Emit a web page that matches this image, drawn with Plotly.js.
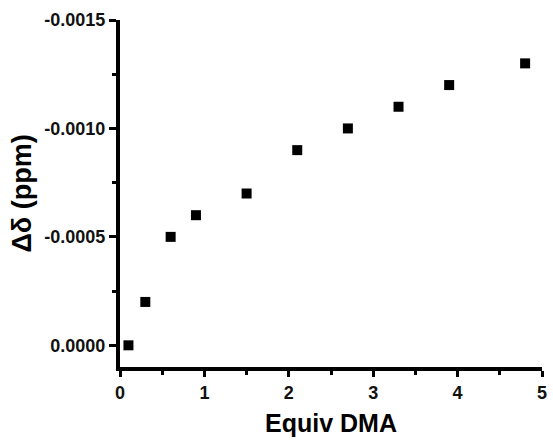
<!DOCTYPE html>
<html>
<head>
<meta charset="utf-8">
<script src="https://cdn.plot.ly/plotly-3.0.1.min.js"></script>
<style>html,body{margin:0;padding:0;background:#fff;}#chart{width:553px;height:446px;}</style>
</head>
<body>
<div id="chart"></div>
<script>
// Data
const equivDMA = [0.1, 0.3, 0.6, 0.9, 1.5, 2.1, 2.7, 3.3, 3.9, 4.8];
const deltaShift = [0.0000, -0.0002, -0.0005, -0.0006, -0.0007, -0.0009, -0.0010, -0.0011, -0.0012, -0.0013];
const yTickVals = [0, -0.0005, -0.0010, -0.0015];
const yTickText = ["0.0000", "-0.0005", "-0.0010", "-0.0015"];
const xTickVals = [0, 1, 2, 3, 4, 5];
const xTickText = ["0", "1", "2", "3", "4", "5"];
const yMinorVals = [-0.00025, -0.00075, -0.00125];
const xMinorVals = [0.5, 1.5, 2.5, 3.5, 4.5];

const FONT = "Arial, Liberation Sans, sans-serif";

const trace = {
  x: equivDMA,
  y: deltaShift,
  type: "scatter",
  mode: "markers",
  marker: {symbol: "square", size: 10, color: "#000", line: {width: 0}},
  showlegend: false
};

const axisCommon = {
  showgrid: false,
  zeroline: false,
  showline: true,
  linecolor: "black",
  linewidth: 4,
  ticks: "outside",
  tickwidth: 3,
  tickcolor: "black",
  tickfont: {family: FONT, size: 18, color: "#111", weight: 700}
};

const layout = {
  width: 553,
  height: 446,
  margin: {l: 120, r: 11, t: 20, b: 79},
  paper_bgcolor: "white",
  plot_bgcolor: "white",
  font: {family: FONT, color: "black"},
  xaxis: Object.assign({}, axisCommon, {
    range: [0, 5],
    ticklen: 6,
    tickvals: xTickVals,
    ticktext: xTickText,
    minor: {tickvals: xMinorVals, ticks: "outside", ticklen: 4, tickwidth: 3, tickcolor: "black", showgrid: false},
    title: {text: "Equiv DMA", font: {family: FONT, size: 25, color: "black", weight: 700}, standoff: 14}
  }),
  yaxis: Object.assign({}, axisCommon, {
    range: [0.0001, -0.0015],
    ticklen: 7,
    tickvals: yTickVals,
    ticktext: yTickText,
    minor: {tickvals: yMinorVals, ticks: "outside", ticklen: 4, tickwidth: 3, tickcolor: "black", showgrid: false},
    title: {text: "Δδ (ppm)", font: {family: FONT, size: 27, color: "black", weight: 700}, standoff: 6}
  })
};

Plotly.newPlot("chart", [trace], layout, {displayModeBar: false, staticPlot: true});
</script>
</body>
</html>
